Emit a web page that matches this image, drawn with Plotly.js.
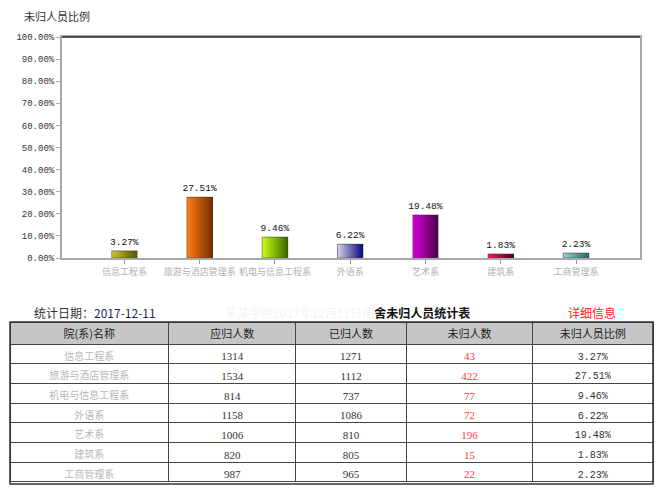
<!DOCTYPE html>
<html>
<head>
<meta charset="utf-8">
<script src="https://cdn.plot.ly/plotly-3.0.1.min.js"></script>
<style>
html,body{margin:0;padding:0;background:#fff;}
#chart{width:664px;height:489px;}
</style>
</head>
<body>
<div id="chart"></div>
<script>
// ---- data ----
var categories = ["信息工程系", "旅游与酒店管理系", "机电与信息工程系", "外语系", "艺术系", "建筑系", "工商管理系"];
var ratioValues = [3.27, 27.51, 9.46, 6.22, 19.48, 1.83, 2.23];
var shouldReturn = [1314, 1534, 814, 1158, 1006, 820, 987];
var hasReturned = [1271, 1112, 737, 1086, 810, 805, 965];
var notReturned = [43, 422, 77, 72, 196, 15, 22];
var yTickValues = [0, 10, 20, 30, 40, 50, 60, 70, 80, 90, 100];
var yTickLabels = ["0.00%", "10.00%", "20.00%", "30.00%", "40.00%", "50.00%", "60.00%", "70.00%", "80.00%", "90.00%", "100.00%"];
var tableHeaders = ["院(系)名称", "应归人数", "已归人数", "未归人数", "未归人员比例"];

// ---- styles ----
var lightColors = ["#c2c230", "#ff7c12", "#c8ff14", "#d4d4e6", "#d400d4", "#ff1464", "#96d4cc"];
var darkColors  = ["#5c5806", "#762c00", "#3c6a00", "#0a0a82", "#4e004e", "#4e0016", "#286866"];

function hexToRgb(h){return [parseInt(h.substr(1,2),16),parseInt(h.substr(3,2),16),parseInt(h.substr(5,2),16)];}
function mix(a,b,t){var A=hexToRgb(a),B=hexToRgb(b);return 'rgb('+A.map(function(v,i){return Math.round(v+(B[i]-v)*t);}).join(',')+')';}

var barWidth = 0.34;
var nSlices = 26;
var sliceW = barWidth / nSlices;
var traces = [];
for (var s = 0; s < nSlices; s++) {
  var t = s / (nSlices - 1);
  traces.push({
    type: 'bar',
    x: categories,
    y: ratioValues,
    width: (s < nSlices - 1) ? sliceW * 2 : sliceW,
    offset: -barWidth / 2 + s * sliceW,
    marker: {color: lightColors.map(function(c, i){return mix(c, darkColors[i], t);}), line: {width: 0}},
    hoverinfo: 'skip',
    showlegend: false
  });
}
// outline + value labels
traces.push({
  type: 'bar',
  x: categories,
  y: ratioValues,
  width: barWidth,
  marker: {color: 'rgba(0,0,0,0)', line: {color: '#333', width: 0.5}},
  text: ratioValues.map(function(v){return v.toFixed(2) + '%';}),
  textposition: 'outside',
  constraintext: 'none',
  cliponaxis: false,
  textfont: {family: 'Liberation Mono, monospace', size: 9.5, color: '#111'},
  showlegend: false
});

// table
function fmtPct(v){return v.toFixed(2) + '%';}
traces.push({
  type: 'table',
  domain: {x: [10/664, 653/664], y: [0, 167/489]},
  columnwidth: [158, 127, 110, 126, 120],
  header: {
    values: tableHeaders,
    fill: {color: '#c6c6c6'},
    line: {color: '#444', width: 1},
    align: 'center',
    height: 22,
    font: {family: 'Noto Sans CJK SC', size: 11, color: '#222'}
  },
  cells: {
    values: [categories, shouldReturn, hasReturned, notReturned, ratioValues.map(fmtPct)],
    fill: {color: '#fff'},
    line: {color: '#444', width: 1},
    align: 'center',
    height: 19.7,
    font: {
      family: ['Noto Sans CJK SC', 'Liberation Serif', 'Liberation Serif', 'Liberation Serif', 'Liberation Mono'],
      size: [10, 11, 11, 11, 10],
      color: ['#b8b8b8', '#333', '#333', '#ff3a3a', '#333']
    }
  }
});

var layout = {
  width: 664,
  height: 489,
  margin: {l: 0, r: 0, t: 0, b: 0},
  paper_bgcolor: '#fff',
  plot_bgcolor: '#fff',
  barmode: 'overlay',
  bargap: 0,
  xaxis: {
    domain: [62/664, 640/664],
    anchor: 'y',
    type: 'category',
    range: [-0.83, 6.85],
    showline: true,
    linecolor: '#a8a8a8',
    linewidth: 2,
    mirror: true,
    ticks: 'outside',
    ticklen: 4,
    tickcolor: '#999',
    showgrid: false,
    zeroline: false,
    tickfont: {family: 'Noto Sans CJK SC', size: 9, color: '#b0b0b0'}
  },
  yaxis: {
    domain: [231/489, 452/489],
    anchor: 'x',
    range: [0, 100],
    tickvals: yTickValues,
    ticktext: yTickLabels,
    showline: true,
    linecolor: '#a8a8a8',
    linewidth: 2,
    mirror: true,
    ticks: 'outside',
    ticklen: 4,
    tickcolor: '#aaa',
    showgrid: false,
    zeroline: false,
    tickfont: {family: 'Liberation Mono, monospace', size: 9, color: '#333'}
  },
  shapes: [
    {type: 'line', xref: 'paper', yref: 'paper', x0: 62/664, x1: 640/664, y0: 452/489, y1: 452/489, line: {color: '#222', width: 1.5}},
    {type: 'rect', xref: 'paper', yref: 'paper', x0: 10/664, x1: 653/664, y0: 5/489, y1: 167/489, line: {color: '#333', width: 1.5}}
  ],
  annotations: [
    {xref: 'paper', yref: 'paper', x: 22/664, y: 1 - 16/489, xanchor: 'left', yanchor: 'middle', showarrow: false,
     text: '未归人员比例', font: {family: 'Noto Sans CJK SC', size: 11, color: '#333'}},
    {xref: 'paper', yref: 'paper', x: 32/664, y: 1 - 312/489, xanchor: 'left', yanchor: 'middle', showarrow: false,
     text: '统计日期：<span style="color:#1a2a5a">2017-12-11</span>', font: {family: 'Noto Sans CJK SC', size: 12, color: '#333'}},
    {xref: 'paper', yref: 'paper', x: 472/664, y: 1 - 312/489, xanchor: 'right', yanchor: 'middle', showarrow: false,
     text: '<span style="color:#f4f4f4;font-weight:normal">某某学院2017年12月11日宿</span><b>舍未归人员统计表</b>', font: {family: 'Noto Sans CJK SC', size: 12, color: '#111'}},
    {xref: 'paper', yref: 'paper', x: 592/664, y: 1 - 312/489, xanchor: 'center', yanchor: 'middle', showarrow: false,
     text: '详细信息', font: {family: 'Noto Sans CJK SC', size: 12, color: '#ff2020'}}
  ]
};

Plotly.newPlot('chart', traces, layout, {displayModeBar: false, staticPlot: true});
</script>
</body>
</html>
